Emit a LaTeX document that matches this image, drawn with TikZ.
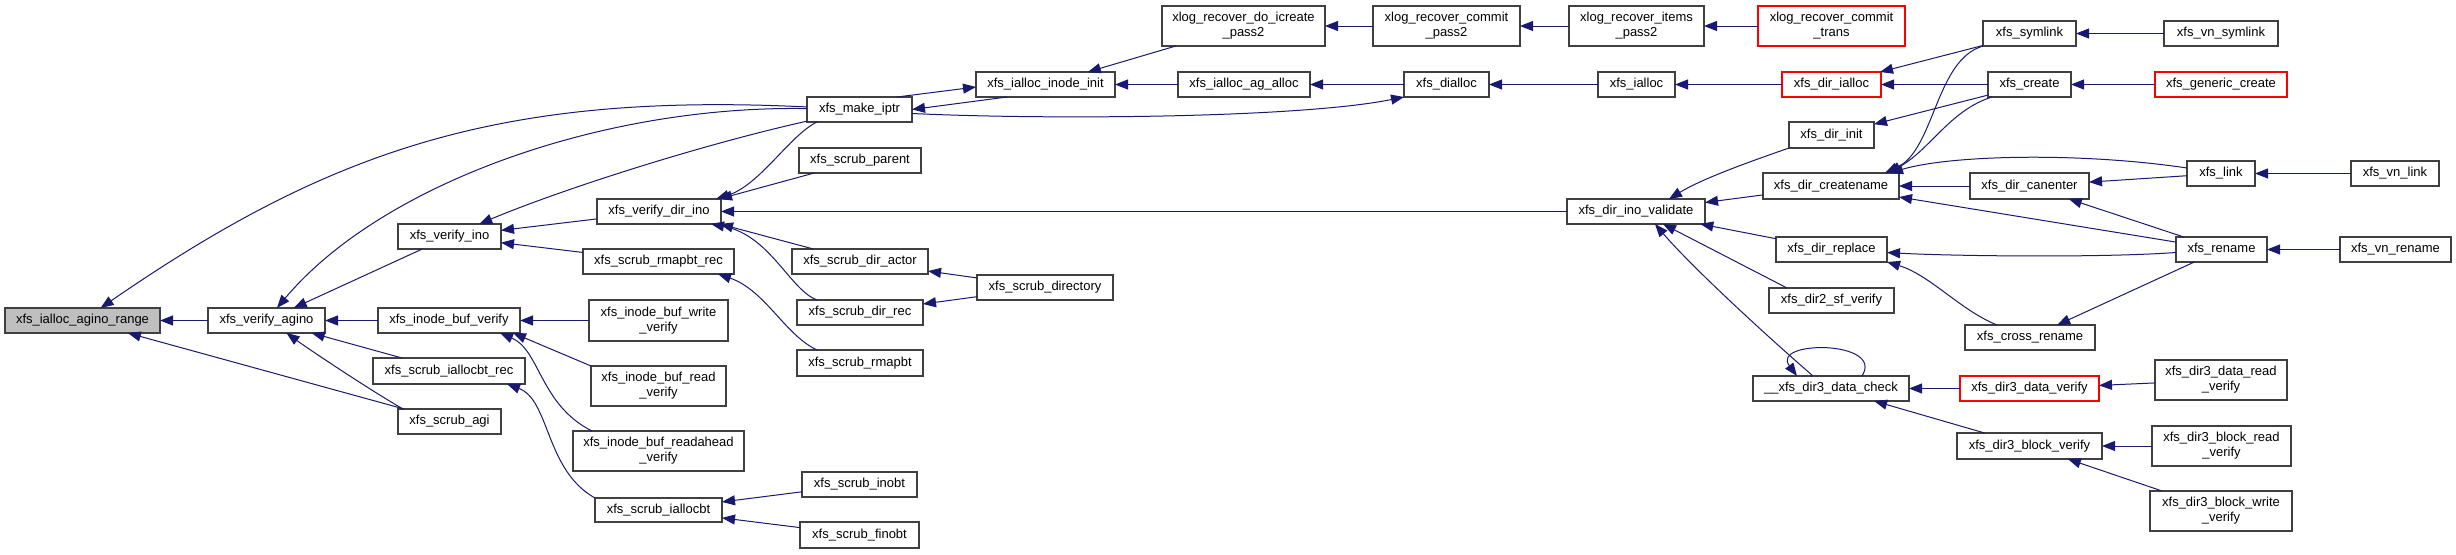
\documentclass[tikz,border=0pt]{standalone}
\usepackage{fontspec}
\setmainfont{Liberation Sans}
\usetikzlibrary{arrows.meta}
\definecolor{edgeblue}{HTML}{191970}
\definecolor{boxgray}{HTML}{404040}
\definecolor{boxred}{HTML}{FF0000}
\definecolor{rootgray}{HTML}{BFBFBF}
\newcommand\fnbox[7]{\node[#1, minimum width={(#4-#2)*1pt}, minimum height={(#5-#3)*1pt}] (#6) at ({(#2+#4)/2},{(#3+#5)/2}) {#7};}
\begin{document}
\begin{tikzpicture}[x=1pt,y=-1pt,
  fn/.style={draw=boxgray, line width=1.1pt, fill=white, inner sep=0pt, outer sep=0pt, font=\fontsize{13}{15}\selectfont, align=center, text=black},
  fnred/.style={fn, draw=boxred},
  fnroot/.style={fn, fill=rootgray},
  call/.style={draw=edgeblue, line width=1pt, -{Triangle[length=13pt,width=10pt]}}]
\useasboundingbox[fill=white] (0,0) rectangle (2456,554);

\fnbox{fnroot}{5}{308}{160}{333}{ar}{xfs\_ialloc\_agino\_range}
\fnbox{fn}{208}{308}{325}{333}{va}{xfs\_verify\_agino}
\fnbox{fn}{378}{308}{520}{333}{ibv}{xfs\_inode\_buf\_verify}
\fnbox{fn}{373}{358}{525}{384}{sir}{xfs\_scrub\_iallocbt\_rec}
\fnbox{fn}{398}{409}{501}{434}{agi}{xfs\_scrub\_agi}
\fnbox{fn}{398}{224}{501}{249}{vi}{xfs\_verify\_ino}
\fnbox{fn}{597}{199}{721}{224}{vdi}{xfs\_verify\_dir\_ino}
\fnbox{fn}{583}{249}{734}{274}{srr}{xfs\_scrub\_rmapbt\_rec}
\fnbox{fn}{589}{300}{728}{341}{ibw}{xfs\_inode\_buf\_write\\\_verify}
\fnbox{fn}{591}{366}{726}{406}{ibr}{xfs\_inode\_buf\_read\\\_verify}
\fnbox{fn}{573}{431}{744}{471}{ibra}{xfs\_inode\_buf\_readahead\\\_verify}
\fnbox{fn}{595}{498}{722}{522}{sib}{xfs\_scrub\_iallocbt}
\fnbox{fn}{807}{97}{912}{122}{mk}{xfs\_make\_iptr}
\fnbox{fn}{799}{148}{921}{173}{sp}{xfs\_scrub\_parent}
\fnbox{fn}{792}{249}{928}{274}{sda}{xfs\_scrub\_dir\_actor}
\fnbox{fn}{797}{300}{923}{325}{sdr}{xfs\_scrub\_dir\_rec}
\fnbox{fn}{797}{350}{923}{376}{srm}{xfs\_scrub\_rmapbt}
\fnbox{fn}{977}{275}{1113}{300}{sdy}{xfs\_scrub\_directory}
\fnbox{fn}{802}{472}{917}{497}{sin}{xfs\_scrub\_inobt}
\fnbox{fn}{800}{522}{919}{548}{sfi}{xfs\_scrub\_finobt}
\fnbox{fn}{976}{72}{1115}{97}{iii}{xfs\_ialloc\_inode\_init}
\fnbox{fn}{1162}{6}{1325}{46}{xdi}{xlog\_recover\_do\_icreate\\\_pass2}
\fnbox{fn}{1178}{72}{1310}{97}{iaa}{xfs\_ialloc\_ag\_alloc}
\fnbox{fn}{1373}{6}{1520}{46}{xcp}{xlog\_recover\_commit\\\_pass2}
\fnbox{fn}{1404}{72}{1489}{97}{dia}{xfs\_dialloc}
\fnbox{fn}{1569}{6}{1704}{46}{xip}{xlog\_recover\_items\\\_pass2}
\fnbox{fn}{1598}{72}{1675}{97}{ial}{xfs\_ialloc}
\fnbox{fn}{1567}{199}{1705}{224}{div}{xfs\_dir\_ino\_validate}
\fnbox{fnred}{1758}{6}{1905}{46}{xct}{xlog\_recover\_commit\\\_trans}
\fnbox{fnred}{1782}{72}{1881}{97}{dal}{xfs\_dir\_ialloc}
\fnbox{fn}{1789}{122}{1874}{148}{din}{xfs\_dir\_init}
\fnbox{fn}{1763}{173}{1899}{199}{dcn}{xfs\_dir\_createname}
\fnbox{fn}{1776}{237}{1887}{262}{drp}{xfs\_dir\_replace}
\fnbox{fn}{1769}{288}{1894}{313}{d2s}{xfs\_dir2\_sf\_verify}
\fnbox{fn}{1753}{376}{1909}{401}{d3c}{\_\_xfs\_dir3\_data\_check}
\fnbox{fn}{1983}{21}{2076}{46}{sym}{xfs\_symlink}
\fnbox{fn}{1988}{72}{2071}{97}{cre}{xfs\_create}
\fnbox{fn}{1970}{173}{2089}{199}{can}{xfs\_dir\_canenter}
\fnbox{fn}{1965}{325}{2095}{350}{crn}{xfs\_cross\_rename}
\fnbox{fnred}{1960}{376}{2099}{401}{d3v}{xfs\_dir3\_data\_verify}
\fnbox{fn}{1957}{433}{2102}{459}{d3b}{xfs\_dir3\_block\_verify}
\fnbox{fn}{2164}{21}{2278}{46}{vsy}{xfs\_vn\_symlink}
\fnbox{fnred}{2155}{72}{2287}{97}{gcr}{xfs\_generic\_create}
\fnbox{fn}{2187}{161}{2255}{186}{lnk}{xfs\_link}
\fnbox{fn}{2176}{237}{2267}{262}{ren}{xfs\_rename}
\fnbox{fn}{2351}{161}{2439}{186}{vln}{xfs\_vn\_link}
\fnbox{fn}{2340}{237}{2451}{262}{vrn}{xfs\_vn\_rename}
\fnbox{fn}{2155}{360}{2287}{400}{d3r}{xfs\_dir3\_data\_read\\\_verify}
\fnbox{fn}{2152}{426}{2291}{466}{d3br}{xfs\_dir3\_block\_read\\\_verify}
\fnbox{fn}{2150}{491}{2292}{531}{d3bw}{xfs\_dir3\_block\_write\\\_verify}

\draw[call] (va) -- (ar);
\draw[call] (mk) .. controls (500,92) and (330,150) .. (ar);
\draw[call] (agi) -- (ar);
\draw[call] (vi) -- (va);
\draw[call] (mk) .. controls (600,105) and (380,185) .. (va);
\draw[call] (ibv) -- (va);
\draw[call] (sir) -- (va);
\draw[call] ([xshift=5pt]agi.north west) .. controls (370,390) and (310,350) .. ([xshift=20pt]va.south);
\draw[call] (vdi) -- (vi);
\draw[call] (srr) -- (vi);
\draw[call] (mk) .. controls (700,145) and (560,190) .. (vi);
\draw[call] (ibw) -- (ibv);
\draw[call] (ibr.north west) -- ([xshift=-7pt]ibv.south east);
\draw[call] ([xshift=19pt]ibra.north west) .. controls (540,405) and (540,350) .. ([xshift=-20pt]ibv.south east);
\draw[call] (sib.north west) .. controls (545,470) and (550,400) .. ([xshift=-18pt]sir.south east);
\draw[call] (sin) -- (sib);
\draw[call] (sfi) -- (sib);
\draw[call] ([xshift=10pt]mk.south west) .. controls (790,135) and (760,185) .. ([xshift=-5pt]vdi.north east);
\draw[call] (sp) -- ([xshift=-2pt]vdi.north east);
\draw[call] (div) -- (vdi);
\draw[call] (sda) -- ([xshift=-1pt]vdi.south east);
\draw[call] ([xshift=20pt]sdr.north west) .. controls (790,290) and (770,235) .. ([xshift=-10pt]vdi.south east);
\draw[call] ([xshift=20pt]srm.north west) .. controls (785,335) and (765,290) .. ([xshift=-16pt]srr.south east);
\draw[call] (sdy) -- (sda);
\draw[call] (sdy) -- (sdr);
\draw[call] ([xshift=-15pt]mk.north east) -- ([yshift=-2.5pt]iii.west);
\draw[call] ([xshift=31pt]iii.south west) -- (mk.east);
\draw[call] ([yshift=-4pt]mk.east) .. controls (1050,120) and (1300,118) .. (dia.south west);
\draw[call] (xdi) -- (iii);
\draw[call] (iaa) -- (iii);
\draw[call] (xcp) -- (xdi);
\draw[call] (dia) -- (iaa);
\draw[call] (xip) -- (xcp);
\draw[call] (ial) -- (dia);
\draw[call] (xct) -- (xip);
\draw[call] (dal) -- (ial);
\draw[call] (sym) -- (dal);
\draw[call] (cre) -- (dal);
\draw[call] (cre) -- (din);
\draw[call] (din.south west) .. controls (1740,165) and (1700,180) .. ([xshift=33pt]div.north);
\draw[call] (dcn) -- (div);
\draw[call] (drp) -- (div);
\draw[call] ([xshift=18pt]d2s.north west) -- ([xshift=27pt]div.south);
\draw[call] ([xshift=-18pt]d3c.north) .. controls (1760,330) and (1690,265) .. ([xshift=19pt]div.south);
\draw[call] ([xshift=31pt]d3c.north) .. controls (1885,340) and (1770,340) .. ([xshift=-34pt]d3c.north);
\draw[call] (sym.south west) .. controls (1935,60) and (1935,150) .. ([xshift=-14pt]dcn.north east);
\draw[call] ([xshift=4pt]cre.south west) .. controls (1950,110) and (1930,150) .. ([xshift=-11pt]dcn.north east);
\draw[call] ([yshift=5.5pt]lnk.west) .. controls (2080,152) and (1950,155) .. ([xshift=-9pt]dcn.north east);
\draw[call] (can) -- (dcn);
\draw[call] (ren) -- (dcn);
\draw[call] ([yshift=-3pt]ren.west) .. controls (2100,258) and (1950,256) .. ([yshift=-3pt]drp.east);
\draw[call] ([xshift=32pt]crn.north west) .. controls (1960,310) and (1930,275) .. (drp.south east);
\draw[call] (ren) -- (can);
\draw[call] (lnk) -- (can);
\draw[call] (vsy) -- (sym);
\draw[call] (gcr) -- (cre);
\draw[call] (vln) -- (lnk);
\draw[call] (vrn) -- (ren);
\draw[call] (ren) -- (crn);
\draw[call] (d3v) -- (d3c);
\draw[call] (d3b) -- (d3c);
\draw[call] (d3r) -- (d3v);
\draw[call] (d3br) -- (d3b);
\draw[call] (d3bw) -- (d3b);
\end{tikzpicture}
\end{document}
